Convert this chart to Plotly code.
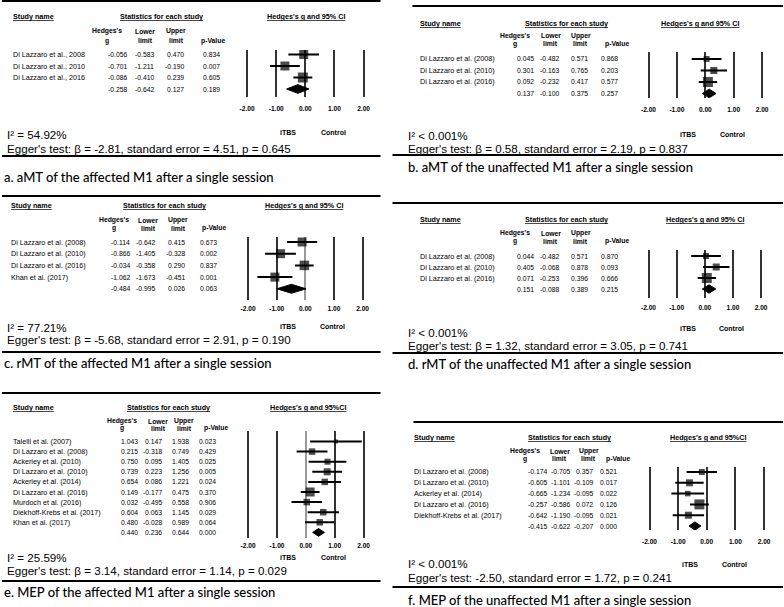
import plotly.graph_objects as go

W, H = 784, 607

# ---------------- data ----------------
# a. aMT of the affected M1
a_names = ["Di Lazzaro et al., 2008", "Di Lazzaro et al., 2010", "Di Lazzaro et al., 2016"]
a_g = [-0.056, -0.701, -0.086]
a_lo = [-0.583, -1.211, -0.410]
a_hi = [0.470, -0.190, 0.239]
a_p = [0.834, 0.007, 0.605]
a_size = [9, 9, 10]
a_pooled = [-0.258, -0.642, 0.127, 0.189]
a_i2 = "I² = 54.92%"
a_egger = "Egger's test: β = -2.81, standard error = 4.51, p = 0.645"
a_caption = "a. aMT of the affected M1 after a single session"

# b. aMT of the unaffected M1
b_names = ["Di Lazzaro et al. (2008)", "Di Lazzaro et al. (2010)", "Di Lazzaro et al. (2016)"]
b_g = [0.045, 0.301, 0.092]
b_lo = [-0.482, -0.163, -0.232]
b_hi = [0.571, 0.765, 0.417]
b_p = [0.868, 0.203, 0.577]
b_size = [6, 7, 10]
b_pooled = [0.137, -0.100, 0.375, 0.257]
b_i2 = "I² < 0.001%"
b_egger = "Egger's test: β = 0.58, standard error = 2.19, p = 0.837"
b_caption = "b. aMT of the unaffected M1 after a single session"

# c. rMT of the affected M1
c_names = ["Di Lazzaro et al. (2008)", "Di Lazzaro et al. (2010)", "Di Lazzaro et al. (2016)", "Khan et al. (2017)"]
c_g = [-0.114, -0.866, -0.034, -1.062]
c_lo = [-0.642, -1.405, -0.358, -1.673]
c_hi = [0.415, -0.328, 0.290, -0.451]
c_p = [0.673, 0.002, 0.837, 0.001]
c_size = [9, 9, 9.5, 9]
c_pooled = [-0.484, -0.995, 0.026, 0.063]
c_i2 = "I² = 77.21%"
c_egger = "Egger's test: β = -5.68, standard error = 2.91, p = 0.190"
c_caption = "c. rMT of the affected M1 after a single session"

# d. rMT of the unaffected M1
d_names = ["Di Lazzaro et al. (2008)", "Di Lazzaro et al. (2010)", "Di Lazzaro et al. (2016)"]
d_g = [0.044, 0.405, 0.071]
d_lo = [-0.482, -0.068, -0.253]
d_hi = [0.571, 0.878, 0.396]
d_p = [0.870, 0.093, 0.666]
d_size = [6, 7, 10]
d_pooled = [0.151, -0.088, 0.389, 0.215]
d_i2 = "I² < 0.001%"
d_egger = "Egger's test: β = 1.32, standard error = 3.05, p = 0.741"
d_caption = "d. rMT of the unaffected M1 after a single session"

# e. MEP of the affected M1
e_names = ["Talelli et al. (2007)", "Di Lazzaro et al. (2008)", "Ackerley et al. (2010)",
           "Di Lazzaro et al. (2010)", "Ackerley et al. (2014)", "Di Lazzaro et al. (2016)",
           "Murdoch et al. (2016)", "Diekhoff-Krebs et al. (2017)", "Khan et al. (2017)"]
e_g = [1.043, 0.215, 0.750, 0.739, 0.654, 0.149, 0.032, 0.604, 0.480]
e_lo = [0.147, -0.318, 0.095, 0.223, 0.086, -0.177, -0.495, 0.063, -0.028]
e_hi = [1.938, 0.749, 1.405, 1.256, 1.221, 0.475, 0.558, 1.145, 0.989]
e_p = [0.023, 0.429, 0.025, 0.005, 0.024, 0.370, 0.906, 0.029, 0.064]
e_size = [4, 6.5, 6, 7, 6.5, 9, 6.5, 6.5, 6.5]
e_pooled = [0.440, 0.236, 0.644, 0.000]
e_i2 = "I² = 25.59%"
e_egger = "Egger's test: β = 3.14, standard error = 1.14, p = 0.029"
e_caption = "e. MEP of the affected M1 after a single session"

# f. MEP of the unaffected M1
f_names = ["Di Lazzaro et al. (2008)", "Di Lazzaro et al. (2010)", "Ackerley et al. (2014)",
           "Di Lazzaro et al. (2016)", "Diekhoff-Krebs et al. (2017)"]
f_g = [-0.174, -0.605, -0.665, -0.257, -0.642]
f_lo = [-0.705, -1.101, -1.234, -0.586, -1.190]
f_hi = [0.357, -0.109, -0.095, 0.072, -0.095]
f_p = [0.521, 0.017, 0.022, 0.126, 0.021]
f_size = [6, 7, 5.5, 10, 7]
f_pooled = [-0.415, -0.622, -0.207, 0.000]
f_i2 = "I² < 0.001%"
f_egger = "Egger's test: -2.50, standard error = 1.72, p = 0.241"
f_caption = "f. MEP of the unaffected M1 after a single session"

ticks = [-2, -1, 0, 1, 2]
tick_labels = ["-2.00", "-1.00", "0.00", "1.00", "2.00"]

# ---------------- layout (pixel positions of each panel) ----------------
boxes = [
    dict(name_x=10, cols=[126, 154, 184, 220], heads=[105.5, 144, 175, 212], stats_x=160, hg_x=305,
         head_y=17, sub_y=[31, 41], row0=54.5, dy=11.5, top=50, bot=97, xm2=246, xp2=363,
         tick_y=108, lab_y=132, i2_y=135, egg_y=148, text_x=4, cap_x=1, cap_y=177,
         rule=(1, 0, 380), sep=(156, 0, 380), zero="#333", ci="95% CI"),
    dict(name_x=419, cols=[535, 560, 589, 619], heads=[515, 551, 581, 617], stats_x=567, hg_x=701,
         head_y=23, sub_y=[36, 44], row0=59, dy=11.5, top=52, bot=98, xm2=649, xp2=763,
         tick_y=109, lab_y=134, i2_y=136, egg_y=148, text_x=407, cap_x=407, cap_y=167,
         rule=(6, 412, 784), sep=(155, 392, 784), zero="#333", ci="95% CI"),
    dict(name_x=8, cols=[129, 155, 185, 217], heads=[112, 147, 177, 213], stats_x=163, hg_x=303,
         head_y=205, sub_y=[220, 228], row0=242, dy=11.7, top=237, bot=300, xm2=247, xp2=362,
         tick_y=308, lab_y=326, i2_y=327, egg_y=339, text_x=4, cap_x=1, cap_y=363,
         rule=(196, 0, 380), sep=(352, 0, 380), zero="#999", ci="95% CI"),
    dict(name_x=419, cols=[535, 560, 589, 619], heads=[515, 551, 581, 617], stats_x=567, hg_x=706,
         head_y=219, sub_y=[233, 241], row0=256, dy=11, top=250, bot=298, xm2=649, xp2=762,
         tick_y=307, lab_y=329, i2_y=332, egg_y=345, text_x=407, cap_x=407, cap_y=364,
         rule=(203, 392, 784), sep=(353, 392, 784), zero="#333", ci="95% CI"),
    dict(name_x=10, cols=[138, 162, 189, 216], heads=[120, 157, 183, 215], stats_x=167, hg_x=307,
         head_y=407, sub_y=[421, 428], row0=441.5, dy=10.1, top=431, bot=538, xm2=247, xp2=363,
         tick_y=545, lab_y=557, i2_y=557, egg_y=570, text_x=4, cap_x=1, cap_y=592,
         rule=(393, 0, 380), sep=(581, 0, 380), zero="#999", ci="95%CI"),
    dict(name_x=413, cols=[548, 571, 594, 618], heads=[525, 560, 589, 618], stats_x=570, hg_x=709,
         head_y=437, sub_y=[451, 459], row0=472, dy=10.8, top=467, bot=530, xm2=650, xp2=765,
         tick_y=541, lab_y=564, i2_y=563, egg_y=577, text_x=407, cap_x=407, cap_y=600,
         rule=(422, 413, 784), sep=(587, 392, 784), zero="#333", ci="95%CI"),
]

panels = [
    (a_names, a_g, a_lo, a_hi, a_p, a_size, a_pooled, a_i2, a_egger, a_caption),
    (b_names, b_g, b_lo, b_hi, b_p, b_size, b_pooled, b_i2, b_egger, b_caption),
    (c_names, c_g, c_lo, c_hi, c_p, c_size, c_pooled, c_i2, c_egger, c_caption),
    (d_names, d_g, d_lo, d_hi, d_p, d_size, d_pooled, d_i2, d_egger, d_caption),
    (e_names, e_g, e_lo, e_hi, e_p, e_size, e_pooled, e_i2, e_egger, e_caption),
    (f_names, f_g, f_lo, f_hi, f_p, f_size, f_pooled, f_i2, f_egger, f_caption),
]

SANS = "Liberation Sans, Arial, sans-serif"
CAP = "Lato, Open Sans, sans-serif"
TS = 7.2      # study names and main headers
NUM = 6.8     # table numbers
SUB = 6.8     # column sub-headers


def px(x):
    return x / W


def py(y):
    return 1 - y / H


fig = go.Figure()
annotations, shapes = [], []
layout = {}


def note(text, x, y, xanchor="center", yref="paper", size=TS, family=SANS, xref="paper", weight="normal"):
    annotations.append(dict(text=text, x=x, y=y, xref=xref, yref=yref, xanchor=xanchor,
                            yanchor="middle", showarrow=False, borderpad=0,
                            font=dict(family=family, size=size, color="black", weight=weight)))


for k, ((names, g, lo, hi, p, size, pooled, i2, egger, caption), b) in enumerate(zip(panels, boxes), start=1):
    xa = "x" if k == 1 else f"x{k}"
    ya = "y" if k == 1 else f"y{k}"
    n = len(names)
    rows = list(range(n))
    unit = (b["xp2"] - b["xm2"]) / 4
    pad = 0.2

    layout["xaxis" if k == 1 else f"xaxis{k}"] = dict(
        domain=[px(b["xm2"] - pad * unit), px(b["xp2"] + pad * unit)],
        range=[-2 - pad, 2 + pad], anchor=ya, tickvals=ticks,
        ticktext=[f"<b>{t}</b>" for t in tick_labels],
        tickfont=dict(family=SANS, size=6.6, color="black"), ticks="",
        ticklabelstandoff=max(b["tick_y"] - b["bot"] - 5, 0),
        showgrid=True, gridcolor="#333", gridwidth=2,
        zeroline=True, zerolinecolor=b["zero"], zerolinewidth=2, showline=False, fixedrange=True)
    layout["yaxis" if k == 1 else f"yaxis{k}"] = dict(
        domain=[py(b["bot"]), py(b["top"])],
        range=[(b["bot"] - b["row0"]) / b["dy"], (b["top"] - b["row0"]) / b["dy"]],
        anchor=xa, visible=False, fixedrange=True)

    # study effects with confidence intervals
    fig.add_trace(go.Scatter(
        x=g, y=rows, xaxis=xa, yaxis=ya, mode="markers", cliponaxis=False,
        marker=dict(symbol="square", size=size, color="black", line=dict(width=0)),
        error_x=dict(type="data", symmetric=False,
                     array=[h - v for h, v in zip(hi, g)],
                     arrayminus=[v - l for v, l in zip(g, lo)],
                     color="black", thickness=2, width=0),
        showlegend=False, hoverinfo="skip"))

    # pooled diamond
    pg, pl, ph, pp = pooled
    hh = 0.38
    fig.add_trace(go.Scatter(
        x=[pl, pg, ph, pg, pl], y=[n, n - hh, n, n + hh, n], xaxis=xa, yaxis=ya,
        mode="lines", fill="toself", fillcolor="black", line=dict(color="black", width=1),
        cliponaxis=False, showlegend=False, hoverinfo="skip"))

    # table rows
    for i in rows:
        note(names[i], px(b["name_x"]), i, "left", ya)
        for cx, v in zip(b["cols"], (g[i], lo[i], hi[i], p[i])):
            note(f"{v:.3f}", px(cx), i, "right", ya, size=NUM)
    for cx, v in zip(b["cols"], pooled):
        note(f"{v:.3f}", px(cx), n, "right", ya, size=NUM)

    # headers
    note("<b><u>Study name</u></b>", px(b["name_x"]), py(b["head_y"]), "left")
    note("<b><u>Statistics for each study</u></b>", px(b["stats_x"]), py(b["head_y"]))
    note(f"<b><u>Hedges's g and {b['ci']}</u></b>", px(b["hg_x"]), py(b["head_y"]))
    h1, h2 = b["sub_y"]
    hx = b["heads"]
    for txt, x, y in (("Hedges's", hx[0], h1), ("g", hx[0], h2), ("Lower", hx[1], h1),
                      ("limit", hx[1], h2), ("Upper", hx[2], h1), ("limit", hx[2], h2),
                      ("p-Value", hx[3], h2)):
        note(f"<b>{txt}</b>", px(x), py(y), size=SUB)

    # favours labels
    note("<b>iTBS</b>", -0.6, py(b["lab_y"]), xref=xa, size=7)
    note("<b>Control</b>", 0.95, py(b["lab_y"]), xref=xa, size=7)

    # heterogeneity, Egger and caption
    note(i2, px(b["text_x"]), py(b["i2_y"]), "left", size=11.6)
    note(egger, px(b["text_x"]), py(b["egg_y"]), "left", size=11.6)
    note(caption, px(b["cap_x"]), py(b["cap_y"]), "left", size=13.0, family=CAP, weight=500)

    ry, rx0, rx1 = b["rule"]
    sy, sx0, sx1 = b["sep"]
    for yy, x0, x1 in ((ry, rx0, rx1), (sy, sx0, sx1)):
        shapes.append(dict(type="line", xref="paper", yref="paper", x0=px(x0), x1=px(x1),
                           y0=py(yy), y1=py(yy), line=dict(color="black", width=2)))

fig.update_layout(
    width=W, height=H, margin=dict(l=0, r=0, t=0, b=0),
    paper_bgcolor="white", plot_bgcolor="white",
    annotations=annotations, shapes=shapes, showlegend=False, **layout)

fig.write_html("out.html", config={"displayModeBar": False},
               post_script="document.body.style.margin='0';")
